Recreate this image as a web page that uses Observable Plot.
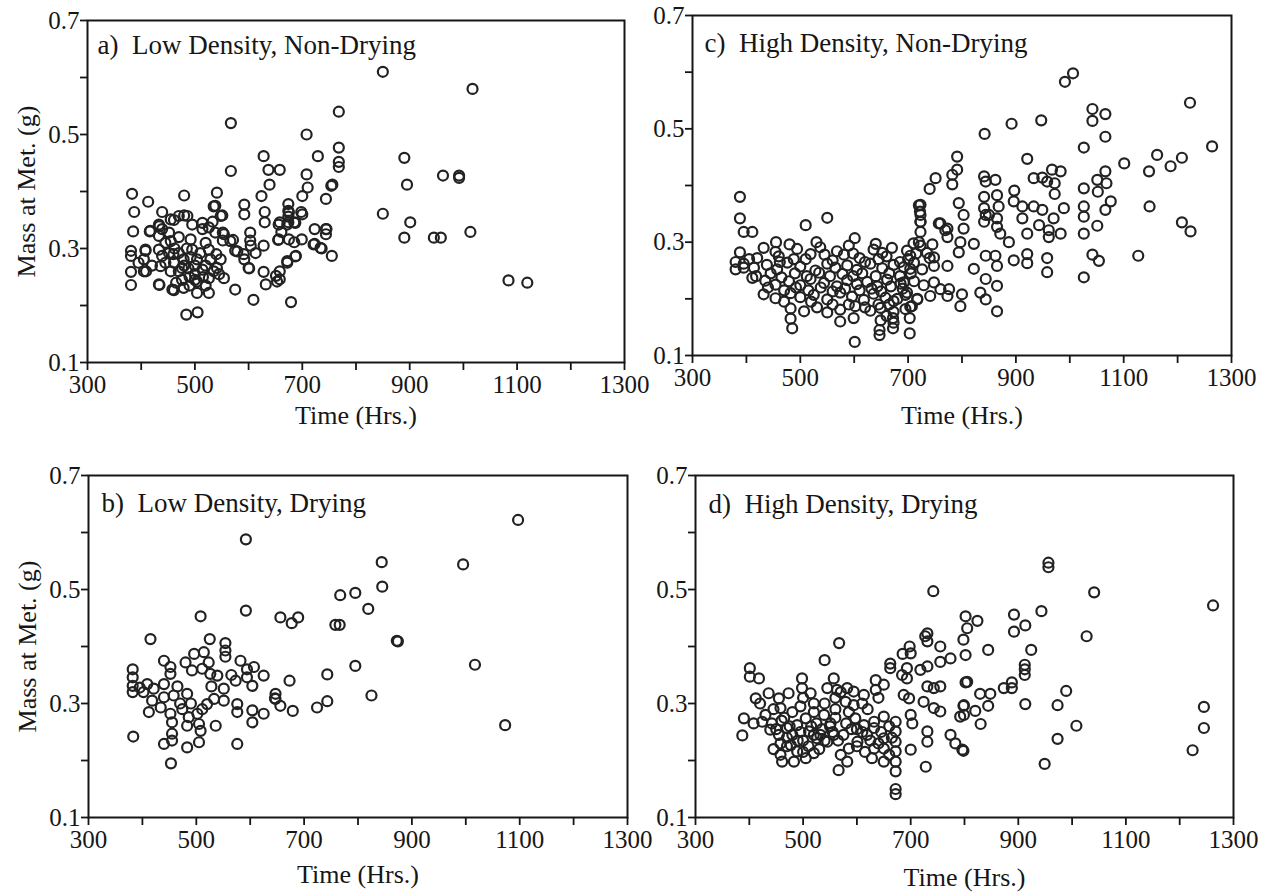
<!DOCTYPE html>
<html>
<head>
<meta charset="utf-8">
<script src="https://cdn.jsdelivr.net/npm/d3@7"></script>
<script src="https://cdn.jsdelivr.net/npm/@observablehq/plot@0.6"></script>
<style>
  html, body { margin: 0; padding: 0; background: #fff; }
  #wrap { position: relative; width: 1272px; height: 893px; background: #fff; overflow: hidden; }
  #wrap > div { position: absolute; }
</style>
</head>
<body>
<div id="wrap">
  <div id="pa" style="left:0px;top:0px"></div>
  <div id="pc" style="left:640px;top:0px"></div>
  <div id="pb" style="left:0px;top:440px"></div>
  <div id="pd" style="left:640px;top:440px"></div>
</div>
<script>
// ---- tick values / labels ----
const xTicks = [300, 400, 500, 600, 700, 800, 900, 1000, 1100, 1200, 1300];
const xTickLabels = ["300", "", "500", "", "700", "", "900", "", "1100", "", "1300"];
const yTicks = [0.1, 0.2, 0.3, 0.4, 0.5, 0.6, 0.7];
const yTickLabels = ["0.1", "", "0.3", "", "0.5", "", "0.7"];
const xTitle = "Time (Hrs.)";
const yTitle = "Mass at Met. (g)";
const titles = ["a)  Low Density, Non-Drying", "b)  Low Density, Drying", "c)  High Density, Non-Drying", "d)  High Density, Drying"];

// ---- data: [time (hrs), mass at metamorphosis (g)] ----
const panelA = [
[850,0.61],[1017,0.58],[768,0.54],[567,0.52],[708,0.50],[768,0.477],[768,0.452],[768,0.443],[729,0.462],[628,0.462],[567,0.436],[637,0.438],[658,0.438],[708,0.43],[710,0.407],[639,0.412],[756,0.412],[624,0.392],[700,0.392],[744,0.387],[698,0.364],[541,0.398],[480,0.393],[383,0.396],[413,0.382],[387,0.364],[439,0.364],[592,0.377],[592,0.36],[630,0.364],[630,0.346],[674,0.378],[674,0.366],[674,0.356],[674,0.346],[685,0.346],[658,0.346],[535,0.374],[551,0.358],[480,0.358],[461,0.35],[434,0.339],[416,0.33],[385,0.33],[381,0.296],[381,0.287],[381,0.259],[381,0.236],[408,0.296],[409,0.26],[434,0.236],[461,0.227],[484,0.184],[505,0.188],[533,0.347],[514,0.334],[552,0.328],[571,0.315],[552,0.314],[575,0.296],[592,0.281],[603,0.328],[603,0.314],[613,0.292],[601,0.265],[628,0.305],[628,0.259],[632,0.237],[609,0.21],[575,0.228],[554,0.248],[526,0.222],[679,0.206],[672,0.278],[658,0.246],[651,0.252],[661,0.329],[655,0.315],[685,0.311],[699,0.316],[688,0.287],[723,0.334],[723,0.308],[736,0.3],[744,0.334],[744,0.325],[755,0.287],[850,0.361],[890,0.459],[895,0.412],[901,0.346],[890,0.319],[962,0.428],[992,0.428],[992,0.424],[945,0.319],[958,0.319],[1013,0.329],[1084,0.244],[1119,0.24],[754,0.41],
[417,0.331],[433,0.342],[439,0.334],[433,0.322],[455,0.351],[470,0.357],[486,0.357],[452,0.328],[455,0.313],[408,0.298],[405,0.281],[405,0.26],[433,0.298],[439,0.287],[436,0.269],[452,0.292],[461,0.275],[455,0.26],[470,0.292],[479,0.281],[476,0.266],[476,0.245],[479,0.231],[495,0.342],[492,0.316],[495,0.298],[504,0.281],[510,0.292],[514,0.263],[504,0.242],[504,0.222],[526,0.298],[529,0.281],[526,0.248],[514,0.345],[526,0.337],[538,0.328],[554,0.325],[566,0.313],[579,0.295],[548,0.281],[541,0.266],[458,0.228],[433,0.237],[538,0.375],[548,0.357],[604,0.305],[591,0.29],[600,0.266],[653,0.242],[658,0.26],[672,0.275],[687,0.286],[656,0.316],[675,0.316],[656,0.342],[672,0.342],[687,0.345],[675,0.363],[700,0.36],[721,0.307],[734,0.301],[745,0.334],
[465,0.24],[490,0.25],[500,0.27],[485,0.3],[520,0.27],[445,0.31],[462,0.3],[520,0.31],[470,0.32],[540,0.29],[545,0.255],[420,0.27],[395,0.275],[490,0.235],[500,0.255],
[470,0.26],[488,0.265],[500,0.245],[515,0.25],[480,0.27],[492,0.285],[460,0.29],[445,0.275],[520,0.235],[535,0.26]
];

const panelB = [
[1097,0.622],[592,0.588],[844,0.548],[995,0.544],[845,0.505],[795,0.494],[767,0.49],[819,0.466],[592,0.463],[508,0.453],[656,0.451],[677,0.441],[689,0.451],[758,0.438],[766,0.438],[872,0.41],[874,0.409],[415,0.413],[525,0.413],[1017,0.368],[795,0.366],[743,0.351],[673,0.34],[825,0.314],[743,0.304],[724,0.293],[1073,0.262],[679,0.287],[656,0.296],[646,0.309],
[382,0.36],[382,0.346],[382,0.331],[382,0.32],[554,0.406],[554,0.393],[554,0.382],[440,0.375],[452,0.364],[452,0.352],[480,0.372],[496,0.387],[514,0.39],[523,0.372],[492,0.358],[511,0.361],[526,0.352],[539,0.349],[409,0.334],[421,0.326],[440,0.334],[418,0.305],[440,0.311],[458,0.314],[483,0.317],[412,0.285],[434,0.293],[452,0.282],[455,0.267],[455,0.247],[455,0.235],[474,0.29],[486,0.276],[483,0.261],[502,0.282],[511,0.29],[520,0.299],[505,0.264],[508,0.252],[533,0.308],[551,0.305],[551,0.326],[573,0.34],[582,0.375],[594,0.36],[607,0.364],[594,0.346],[604,0.331],[625,0.349],[576,0.299],[576,0.285],[604,0.288],[604,0.267],[625,0.282],[536,0.261],[483,0.223],[505,0.232],[440,0.229],[383,0.242],[453,0.195],[576,0.229],[647,0.317],[647,0.308],[402,0.32],[395,0.328],[470,0.3],[465,0.33],[490,0.3],[528,0.33],[565,0.35]
];

const panelC = [
[991,0.583],[1006,0.598],[1223,0.546],[1042,0.535],[1042,0.514],[1066,0.526],[1066,0.486],[1026,0.467],[947,0.515],[892,0.509],[842,0.491],[1264,0.469],[1162,0.454],[1208,0.449],[1187,0.434],[1147,0.425],[1101,0.439],[921,0.447],[967,0.428],[983,0.425],[958,0.407],[972,0.404],[972,0.385],[933,0.413],[949,0.414],[791,0.451],[791,0.428],[782,0.419],[782,0.402],[751,0.413],[740,0.394],[841,0.416],[844,0.407],[862,0.41],[841,0.38],[865,0.383],[868,0.363],[841,0.36],[844,0.348],[897,0.391],[896,0.372],[912,0.363],[933,0.363],[949,0.357],[912,0.342],[921,0.315],[943,0.33],[961,0.321],[961,0.309],[983,0.315],[970,0.342],[989,0.36],[1026,0.395],[1026,0.363],[1026,0.345],[1026,0.315],[1051,0.41],[1066,0.425],[1068,0.404],[1052,0.389],[1076,0.372],[1066,0.357],[1051,0.329],[1148,0.363],[1208,0.335],[1224,0.319],[1127,0.276],[1042,0.278],[1054,0.267],[958,0.272],[958,0.247],[1026,0.238],[921,0.279],[921,0.263],[896,0.268],[887,0.3],[871,0.315],[865,0.327],[865,0.342],[841,0.336],[850,0.348],[794,0.369],[803,0.348],[803,0.324],[723,0.366],[723,0.348],[760,0.333],[773,0.324],[773,0.309],[797,0.3],[822,0.297],[794,0.282],[844,0.276],[862,0.276],[865,0.258],[822,0.253],[844,0.235],[865,0.223],[834,0.211],[800,0.208],[797,0.187],[760,0.217],[773,0.205],[704,0.276],[704,0.253],[723,0.294],[723,0.318],[723,0.336],[748,0.273],[773,0.258],[748,0.229],[692,0.229],[698,0.211],[717,0.199],[865,0.178],[844,0.199],
[388,0.38],[388,0.342],[395,0.318],[411,0.318],[388,0.282],[380,0.252],[395,0.255],[411,0.237],[510,0.33],[550,0.343],[601,0.307],[485,0.148],[601,0.124],[647,0.145],[647,0.136],[672,0.148],[672,0.166],[703,0.139],[703,0.166],[707,0.187],[720,0.365],[722,0.354],[723,0.336],[720,0.3],[757,0.333],[769,0.321],[776,0.217],
[432,0.29],[454,0.283],[494,0.288],[519,0.279],[537,0.291],[568,0.284],[581,0.278],[636,0.287],[652,0.281],[670,0.29],[698,0.285],[735,0.281],
[395,0.262],[414,0.255],[438,0.26],[457,0.252],[476,0.264],[500,0.257],[528,0.25],[550,0.262],[565,0.255],[587,0.259],[605,0.251],[630,0.262],[652,0.254],[673,0.26],[692,0.256],[711,0.264],[726,0.252],[748,0.258],
[435,0.232],[454,0.225],[479,0.231],[500,0.224],[519,0.235],[544,0.228],[568,0.222],[587,0.233],[605,0.226],[624,0.23],[643,0.222],[661,0.234],[686,0.227],[711,0.231],[729,0.224],
[432,0.208],[454,0.201],[482,0.21],[500,0.203],[525,0.207],[550,0.199],[574,0.211],[596,0.204],[618,0.198],[636,0.209],[658,0.202],[673,0.196],[695,0.207],[717,0.2],[741,0.205],
[482,0.183],[507,0.178],[531,0.185],[550,0.176],[574,0.181],[602,0.187],[630,0.179],[649,0.184],[673,0.177],[695,0.182],[704,0.186],
[482,0.165],[574,0.16],[599,0.166],[649,0.162],[673,0.158],
[420,0.272],[460,0.275],[510,0.27],[560,0.268],[610,0.272],[660,0.275],[700,0.27],[740,0.272],[380,0.265],
[455,0.3],[480,0.296],[530,0.3],[590,0.294],[640,0.297],[710,0.298],[745,0.296],
[445,0.245],[465,0.238],[490,0.245],[512,0.24],[535,0.246],[555,0.24],[578,0.244],[598,0.24],[615,0.245],[640,0.24],[665,0.245],[685,0.24],[705,0.245],[470,0.215],[492,0.22],[515,0.215],[538,0.22],[560,0.213],[583,0.218],[610,0.215],[632,0.218],[650,0.213],[668,0.222],[690,0.218],[462,0.265],[488,0.27],[545,0.278],[598,0.28],[620,0.265],[645,0.27],[685,0.265],[715,0.28],[665,0.19],[680,0.2],[660,0.17],[645,0.19],[620,0.185],[590,0.19],[560,0.19],[520,0.195],[470,0.195],[440,0.22],[418,0.24],[405,0.27]
];

const panelD = [
[956,0.547],[956,0.539],[1041,0.495],[1262,0.472],[943,0.462],[892,0.456],[913,0.437],[892,0.426],[1027,0.418],[844,0.394],[924,0.394],[912,0.368],[912,0.36],[912,0.35],[888,0.337],[873,0.327],[888,0.327],[989,0.322],[829,0.317],[848,0.317],[913,0.299],[973,0.297],[844,0.296],[820,0.287],[830,0.264],[1008,0.261],[973,0.238],[949,0.194],[1224,0.218],[1245,0.294],[1245,0.257],[824,0.445],[798,0.296],[802,0.337],[792,0.277],[805,0.432],[798,0.412],[798,0.217],
[387,0.244],[390,0.274],[401,0.362],[401,0.347],[418,0.344],[412,0.309],[436,0.318],[455,0.309],[473,0.318],[458,0.292],[408,0.265],[424,0.268],[442,0.265],[439,0.254],[455,0.245],[470,0.257],[458,0.23],[458,0.21],[461,0.198],[477,0.227],[489,0.216],[505,0.204],[520,0.213],[483,0.198],[489,0.262],[505,0.274],[511,0.251],[526,0.239],[498,0.344],[498,0.327],[514,0.318],[539,0.28],[551,0.265],[557,0.245],[532,0.245],[545,0.233],[557,0.344],[545,0.327],[563,0.324],[582,0.327],[594,0.321],[579,0.303],[594,0.297],[613,0.315],[597,0.274],[613,0.262],[632,0.268],[570,0.21],[585,0.221],[601,0.233],[566,0.183],[582,0.198],[619,0.245],[632,0.257],[650,0.277],[635,0.341],[635,0.324],[650,0.333],[662,0.37],[662,0.362],[684,0.35],[693,0.344],[687,0.315],[697,0.309],[700,0.388],[731,0.423],[731,0.409],[755,0.4],[731,0.365],[755,0.373],[774,0.379],[731,0.33],[743,0.327],[755,0.33],[724,0.303],[743,0.292],[755,0.286],[700,0.28],[703,0.265],[731,0.251],[731,0.233],[700,0.219],[728,0.189],[650,0.198],[650,0.221],[650,0.239],[632,0.221],[628,0.204],[672,0.268],[672,0.251],[672,0.233],[672,0.216],[672,0.198],[672,0.181],[774,0.245],[783,0.23],[796,0.219],[802,0.385],[805,0.338],[799,0.297],[799,0.28],[802,0.453],[693,0.362],[718,0.359],[742,0.497],[567,0.406],[540,0.376],[672,0.15],[672,0.141],[727,0.418],[698,0.4],[685,0.387],
[430,0.28],[445,0.29],[465,0.275],[480,0.285],[495,0.295],[520,0.285],[540,0.3],[560,0.29],[580,0.265],[600,0.255],[620,0.29],[470,0.24],[490,0.235],[510,0.225],[530,0.22],[550,0.26],[445,0.22],[420,0.3],[610,0.3],[640,0.31],
[460,0.27],[475,0.26],[495,0.25],[515,0.26],[535,0.255],[555,0.25],[575,0.245],[590,0.255],[610,0.25],[625,0.235],[645,0.25],[660,0.26],[480,0.245],[500,0.235],[520,0.245],[540,0.235],[565,0.235],[600,0.225],[615,0.215],[640,0.23],[660,0.21],[665,0.24],[450,0.255],[470,0.225],[500,0.215],[525,0.265],[560,0.275],[585,0.285],[520,0.3],[500,0.31],[560,0.31],[570,0.32]
];

// ---- drawing ----
const INK = "#161616";
function makePanel(el, data, title, o) {
  const marks = [
    Plot.axisX({ticks: xTicks, tickFormat: d => xTickLabels[xTicks.indexOf(d)], tickSize: 8, tickPadding: 5,
                label: null, fontSize: 25, strokeWidth: 1.8, stroke: INK, fill: INK}),
    Plot.axisY({ticks: yTicks, tickFormat: d => yTickLabels[yTicks.findIndex(t => Math.abs(t - d) < 1e-9)], tickSize: 7, tickPadding: 1,
                label: null, fontSize: 25, strokeWidth: 1.8, stroke: INK, fill: INK}),
    Plot.dot(data, {x: d => d[0], y: d => d[1], r: 5, stroke: "#222", strokeWidth: 2.2, fill: "none"}),
    Plot.frame({stroke: INK, strokeWidth: 2}),
    Plot.text([title], {text: d => d, frameAnchor: "top-left", dx: o.tdx, dy: o.tdy, textAnchor: "start", lineAnchor: "middle", fontSize: 27, fill: INK}),
    Plot.text([xTitle], {text: d => d, frameAnchor: "bottom", dy: o.xdy, textAnchor: "middle", lineAnchor: "middle", fontSize: 26, fill: INK})
  ];
  if (o.ylab) marks.push(Plot.text([yTitle], {text: d => d, frameAnchor: "left", dx: -61, rotate: -90, textAnchor: "middle", lineAnchor: "middle", fontSize: 26, fill: INK}));
  const svg = Plot.plot({
    width: o.w, height: o.h,
    marginLeft: o.ml, marginRight: o.mr, marginTop: o.mt, marginBottom: o.mb,
    x: {domain: [300, 1300]},
    y: {domain: [0.1, 0.7]},
    style: {background: "transparent", overflow: "visible", fontFamily: "'Liberation Serif', 'DejaVu Serif', serif", fontSize: "25px", color: INK},
    marks
  });
  document.getElementById(el).appendChild(svg);
}

makePanel("pa", panelA, titles[0], {w: 640, h: 440, ml: 87, mr: 16, mt: 20, mb: 78, tdx: 10, tdy: 25, xdy: 53, ylab: true});
makePanel("pc", panelC, titles[2], {w: 632, h: 440, ml: 52, mr: 41, mt: 15, mb: 85, tdx: 12, tdy: 28, xdy: 60, ylab: false});
makePanel("pb", panelB, titles[1], {w: 640, h: 453, ml: 88, mr: 13, mt: 35, mb: 76, tdx: 13, tdy: 28, xdy: 57, ylab: true});
makePanel("pd", panelD, titles[3], {w: 632, h: 453, ml: 55, mr: 39, mt: 35, mb: 76, tdx: 13, tdy: 29, xdy: 60, ylab: false});
</script>
</body>
</html>
